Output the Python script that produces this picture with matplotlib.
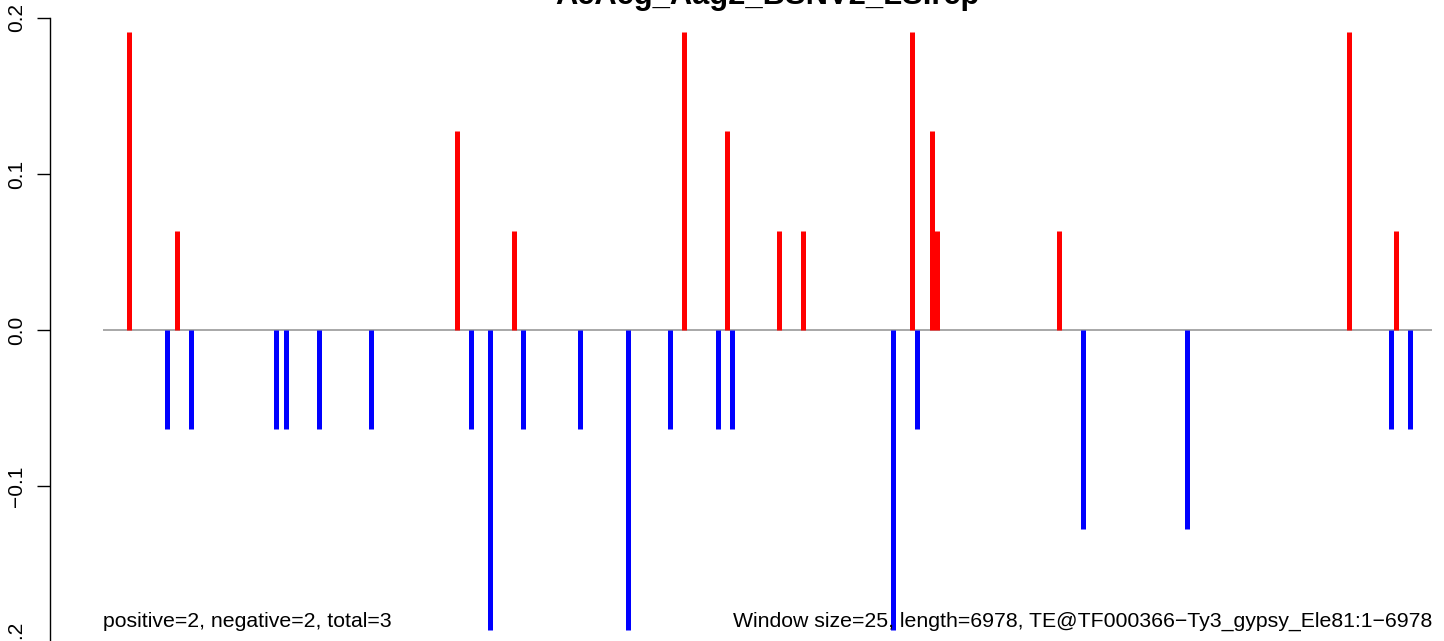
import numpy as np
import matplotlib
matplotlib.use("Agg")
import matplotlib.pyplot as plt

plt.rcParams['font.family'] = ['Liberation Sans', 'DejaVu Sans']

# data
seq_len = 6978
title = "AeAeg_Aag2_BSNV2_LS.rep"
pos_x = [137, 389, 1859, 2158, 3051, 3276, 3549, 3675, 4248, 4350, 4376, 5020, 6542, 6789]
pos_y = [0.191, 0.0637, 0.1274, 0.0637, 0.191, 0.1274, 0.0637, 0.0637,
         0.191, 0.1274, 0.0637, 0.0637, 0.191, 0.0637]
neg_x = [336, 462, 908, 961, 1134, 1407, 1932, 2032, 2205, 2503, 2757, 2977,
         3229, 3303, 4148, 4274, 5146, 5692, 6763, 6863]
neg_y = [-0.0637, -0.0637, -0.0637, -0.0637, -0.0637, -0.0637, -0.0637, -0.192,
         -0.0637, -0.0637, -0.192, -0.0637, -0.0637, -0.0637, -0.192, -0.0637,
         -0.1274, -0.1274, -0.0637, -0.0637]
yticks = [-0.2, -0.1, 0.0, 0.1, 0.2]
ytick_labels = ["\u22120.2", "\u22120.1", "0.0", "0.1", "0.2"]
left_note = "positive=2, negative=2, total=3"
right_note = "Window size=25, length=6978, TE@TF000366\u2212Ty3_gypsy_Ele81:1\u22126978"

W, H = 1444, 641
fig = plt.figure(figsize=(W / 100, H / 100), dpi=100)
ax = fig.add_axes([50 / W, (H - 642) / H, (W - 50) / W, (642 - 18) / H])

# x scale: 0 -> 103.3 px, seq_len -> 1432.3 px
ppu = (1432.3 - 103.3) / seq_len
ax.set_xlim(-(103.3 - 50) / ppu, (W - 103.3) / ppu)
ax.set_ylim(-0.2, 0.2)

ax.hlines(0, 0, seq_len, color='#999999', lw=1.2, zorder=1)
ax.vlines(pos_x, 0, pos_y, color='red', lw=3.6, capstyle='butt', zorder=2)
ax.vlines(neg_x, 0, neg_y, color='blue', lw=3.6, capstyle='butt', zorder=2)

for s in ['top', 'right', 'bottom']:
    ax.spines[s].set_visible(False)
ax.spines['left'].set_bounds(-0.2, 0.2)
ax.spines['left'].set_linewidth(1.0)
ax.set_xticks([])
ax.set_yticks(yticks)
ax.set_yticklabels(ytick_labels, rotation=90, va='center', fontsize=15)
ax.tick_params(axis='y', length=9.5, width=1.0, pad=7.5)

ax.text(0, -0.1904, left_note, ha='left', va='baseline', fontsize=15.3)
ax.text(seq_len, -0.1904, right_note, ha='right', va='baseline', fontsize=15.3)

fig.text(767.5 / W, (H - 4) / H, title, ha='center', va='baseline',
         fontsize=22.2, fontweight='bold')

fig.savefig("out.png", dpi=100)
